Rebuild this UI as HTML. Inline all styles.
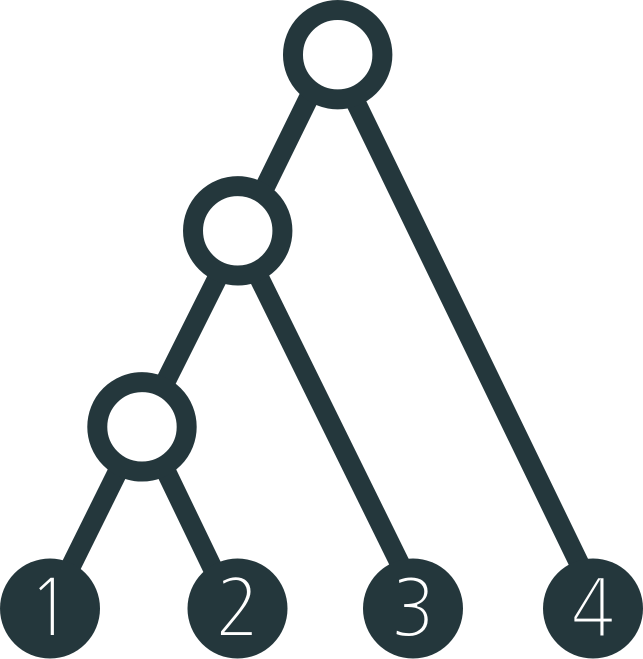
<!DOCTYPE html>
<html lang="en">
<head>
<meta charset="utf-8">
<title>Tree diagram</title>
<style>
html,body{margin:0;padding:0;background:#fff;width:643px;height:659px;overflow:hidden}
svg{display:block}
text{font-family:"NanumGothic","Liberation Sans",sans-serif;font-size:79px;font-weight:400;fill:#fff;stroke:#24373c;stroke-width:2px;text-anchor:middle}
</style>
</head>
<body>
<svg id="tree" xmlns="http://www.w3.org/2000/svg" width="643" height="659" viewBox="0 0 643 659"></svg>
<script>
const leafLabels = ['1', '2', '3', '4'];
const leafPositions = [0, 34.53, 66.85, 100];
const mergeNames = ['merge-node-1-2', 'merge-node-1-2-3', 'root-node'];
const mergePositions = [16.94, 34.57, 52.98];
const mergeHeights = [32.8, 68.2, 100];
const edgeParents = [4, 4, 5, 5, 6, 6];
const edgeChildren = [0, 1, 4, 2, 5, 3];
const edgeParentShifts = [-0.37, 0.48, 0.61, -0.31, -1.42, -0.92];
const edgeChildShifts = [0, -1.01, 0.18, 1.66, 1.07, 1.47];

const INK = '#24373c';
const NS = 'http://www.w3.org/2000/svg';
const svg = document.getElementById('tree');
function xScale(v) { return 50 + v * 5.43; }
function yScale(h) { return 608.5 - h * 5.538; }
function nodePosition(i) { return i < leafPositions.length ? leafPositions[i] : mergePositions[i - leafPositions.length]; }
function nodeHeight(i) { return i < leafPositions.length ? 0 : mergeHeights[i - leafPositions.length]; }
function make(tag, attrs) {
  const el = document.createElementNS(NS, tag);
  for (const k in attrs) el.setAttribute(k, attrs[k]);
  svg.appendChild(el);
  return el;
}
edgeParents.forEach(function (p, i) {
  const c = edgeChildren[i];
  const line = make('line', {
    x1: xScale(nodePosition(p) + edgeParentShifts[i]),
    y1: yScale(nodeHeight(p)),
    x2: xScale(nodePosition(c) + edgeChildShifts[i]),
    y2: yScale(nodeHeight(c)),
    stroke: INK,
    'stroke-width': 20
  });
  
  
});
mergePositions.forEach(function (v, i) {
  const ring = make('circle', {
    cx: xScale(v),
    cy: yScale(mergeHeights[i]),
    r: 44.7,
    fill: '#fff',
    stroke: INK,
    'stroke-width': 20
  });
  
  
});
leafPositions.forEach(function (v, i) {
  const cx = xScale(v);
  const cy = yScale(0);
  const leaf = make('circle', { cx: cx, cy: cy, r: 50, fill: INK });
  
  
  const label = make('text', { transform: 'translate(' + cx + ' ' + (cy + 27.5) + ') scale(0.92 1)' });
  label.textContent = leafLabels[i];
  
  
});
</script>
</body>
</html>
